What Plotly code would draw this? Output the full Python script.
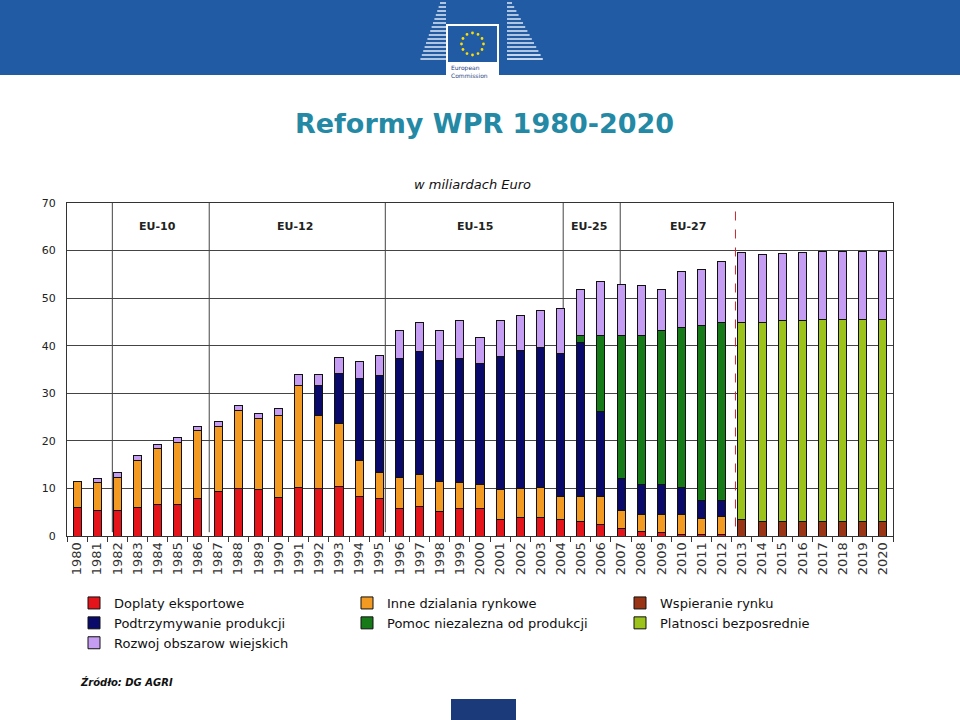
import math
import plotly.graph_objects as go

# lata i wartosci (mld EUR)
years = [str(y) for y in range(1980, 2021)]

doplaty = [6.0, 5.3, 5.3, 5.9, 6.7, 6.7, 7.8, 9.4, 10.0, 9.8, 8.0, 10.2, 9.9, 10.4, 8.2, 7.9,
           5.8, 6.1, 5.1, 5.8, 5.8, 3.5, 3.8, 3.8, 3.5, 3.1, 2.5, 1.6, 1.0, 0.8, 0.4, 0.3, 0.3,
           0, 0, 0, 0, 0, 0, 0, 0]
inne = [5.4, 5.9, 7.1, 9.9, 11.6, 13.0, 14.3, 13.7, 16.3, 14.8, 17.3, 21.5, 15.4, 13.2, 7.6, 5.4,
        6.5, 6.8, 6.3, 5.5, 5.1, 6.3, 6.2, 6.5, 4.9, 5.3, 5.7, 3.7, 3.6, 3.8, 4.1, 3.4, 3.7,
        0, 0, 0, 0, 0, 0, 0, 0]
wspieranie = [0] * 33 + [3.5, 3.0, 3.0, 3.0, 3.0, 3.0, 3.0, 3.0]
podtrzym = [0] * 12 + [6.4, 10.5, 17.4, 20.5, 25.0, 25.9, 25.4, 26.0, 25.3, 27.9, 29.0, 29.4,
                       29.9, 32.3, 17.9, 6.7, 6.3, 6.3, 5.8, 3.7, 3.4] + [0] * 8
pomoc = [0] * 25 + [1.4, 16.1, 30.1, 31.2, 32.4, 33.5, 36.8, 37.4] + [0] * 8
platnosci = [0] * 33 + [41.4, 41.9, 42.2, 42.2, 42.6, 42.6, 42.6, 42.6]
rozwoj = [0, 0.9, 1.0, 1.1, 1.0, 1.0, 1.0, 0.9, 1.2, 1.1, 1.5, 2.2, 2.2, 3.4, 3.4, 4.1,
          5.8, 6.0, 6.3, 7.9, 5.5, 7.6, 7.4, 7.7, 9.5, 9.7, 11.2, 10.7, 10.5, 8.5, 11.7, 11.9, 12.8,
          14.8, 14.2, 14.1, 14.5, 14.3, 14.3, 14.3, 14.3]

series = [
    ("Doplaty eksportowe", doplaty, "#E4141A"),
    ("Inne dzialania rynkowe", inne, "#F29A21"),
    ("Wspieranie rynku", wspieranie, "#993514"),
    ("Podtrzymywanie produkcji", podtrzym, "#0A0A6B"),
    ("Pomoc niezalezna od produkcji", pomoc, "#167A18"),
    ("Platnosci bezposrednie", platnosci, "#9BC31C"),
    ("Rozwoj obszarow wiejskich", rozwoj, "#C59DF2"),
]

periods = ["EU-10", "EU-12", "EU-15", "EU-25", "EU-27"]
period_pos = [3.97, 10.8, 19.75, 25.4, 30.3]
period_lines = [1.75, 6.56, 15.3, 24.13, 26.96]
reform_line = 32.68

FONT = "DejaVu Sans"

fig = go.Figure()
for name, vals, col in series:
    fig.add_trace(go.Bar(
        x=years, y=[v if v else None for v in vals], name=name,
        marker_color=col, marker_line_color="#111111", marker_line_width=1,
    ))

# pixel -> paper helpers (plot area 67..893 x 203..536)
def px(x):
    return (x - 67) / 826


def py(y):
    return (536 - y) / 333


shapes = []
# naglowek z logo
shapes.append(dict(type="rect", xref="paper", yref="paper", x0=px(0), x1=px(960),
                   y0=py(75), y1=py(0), fillcolor="#205BA4", line_width=0, layer="below"))
shapes.append(dict(type="rect", xref="paper", yref="paper", x0=px(446), x1=px(499),
                   y0=py(81), y1=py(24), fillcolor="white", line_width=0, layer="below"))
shapes.append(dict(type="rect", xref="paper", yref="paper", x0=px(448), x1=px(497),
                   y0=py(62), y1=py(26), fillcolor="#205BA4", line_width=0, layer="below"))
for i in range(15):
    yy = 3 + i * 4
    shapes.append(dict(type="line", xref="paper", yref="paper",
                       x0=px(440 - i * 1.4), x1=px(446), y0=py(yy), y1=py(yy),
                       line=dict(color="white", width=1.3), layer="below"))
    shapes.append(dict(type="line", xref="paper", yref="paper",
                       x0=px(507), x1=px(512 + i * 2.2), y0=py(yy), y1=py(yy),
                       line=dict(color="white", width=1.3), layer="below"))
for k in range(12):
    a = 2 * math.pi * k / 12
    cx, cy = 472.5 + 11 * math.cos(a), 44 + 11 * math.sin(a)
    shapes.append(dict(type="circle", xref="paper", yref="paper",
                       x0=px(cx - 1.4), x1=px(cx + 1.4), y0=py(cy + 1.4), y1=py(cy - 1.4),
                       fillcolor="#FFDD00", line_width=0, layer="below"))
shapes.append(dict(type="rect", xref="paper", yref="paper", x0=px(451), x1=px(516),
                   y0=py(720), y1=py(699), fillcolor="#1B3A7A", line_width=0, layer="below"))

# linie okresow
for xv in period_lines:
    shapes.append(dict(type="line", xref="x", yref="y", x0=xv, x1=xv, y0=0.8, y1=70,
                       line=dict(color="#444444", width=1), layer="below"))
shapes.append(dict(type="line", xref="x", yref="y", x0=reform_line, x1=reform_line, y0=2, y1=70,
                   line=dict(color="#C0282D", width=1, dash="dash"), layer="above"))

annotations = []
for lab, xv in zip(periods, period_pos):
    annotations.append(dict(x=xv, y=65, xref="x", yref="y", text="<b>" + lab + "</b>",
                            showarrow=False, xanchor="center", yanchor="middle",
                            font=dict(family=FONT, size=11, color="#222222")))
annotations.append(dict(x=px(472), y=py(184), xref="paper", yref="paper",
                        text="<i>w miliardach Euro</i>", showarrow=False,
                        xanchor="center", yanchor="middle",
                        font=dict(family=FONT, size=13, color="#111111")))
annotations.append(dict(x=px(484), y=py(123), xref="paper", yref="paper",
                        text="<b>Reformy WPR 1980-2020</b>", showarrow=False,
                        xanchor="center", yanchor="middle",
                        font=dict(family=FONT, size=27, color="#2389A5")))
annotations.append(dict(x=px(78), y=py(682), xref="paper", yref="paper",
                        text="<b><i>Źródło: DG AGRI</i></b>", showarrow=False,
                        xanchor="left", yanchor="middle",
                        font=dict(family=FONT, size=10, color="#111111")))
annotations.append(dict(x=px(449), y=py(71), xref="paper", yref="paper",
                        text="European<br>Commission", showarrow=False, align="left",
                        xanchor="left", yanchor="middle",
                        font=dict(family=FONT, size=6, color="#1F3F7F")))

fig.update_layout(
    width=960, height=720, autosize=False,
    margin=dict(l=67, r=67, t=203, b=184),
    paper_bgcolor="white", plot_bgcolor="white",
    barmode="stack", bargap=0.6,
    font=dict(family=FONT, size=11, color="#222222"),
    shapes=shapes, annotations=annotations,
    legend=dict(orientation="h", xref="container", yref="container",
                x=74 / 960, y=1 - 588 / 720, xanchor="left", yanchor="top",
                entrywidth=228, entrywidthmode="pixels", traceorder="normal",
                font=dict(family=FONT, size=13, color="#111111"), itemwidth=30),
    xaxis=dict(type="category", tickson="boundaries", ticks="outside", ticklen=5,
               tickcolor="#333333", tickangle=-90, showline=True, linecolor="#333333",
               mirror=True, showgrid=False, tickfont=dict(family=FONT, size=13, color="#333333")),
    yaxis=dict(range=[0, 70], dtick=10, showgrid=True, gridcolor="#444444", gridwidth=1,
               showline=True, linecolor="#333333", mirror=True, zeroline=False,
               ticklabelstandoff=8, tickfont=dict(family=FONT, size=11, color="#222222")),
)

fig.write_html("out.html", config={"displayModeBar": False},
               post_script="document.body.style.margin='0px';")
